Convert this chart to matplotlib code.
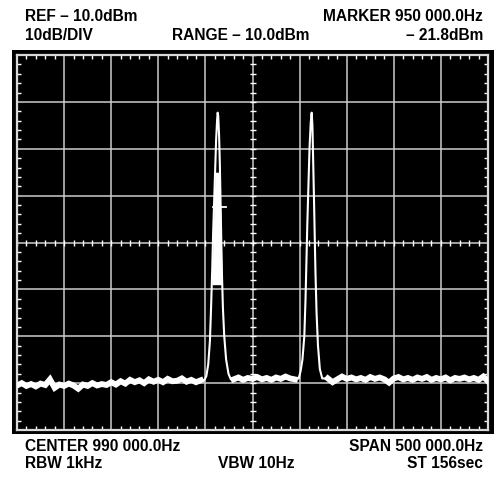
import numpy as np
import matplotlib
matplotlib.use("Agg")
from matplotlib import pyplot as plt
from matplotlib.patches import Rectangle

# analyser settings (kHz / dBm)
start_khz = 740.0
stop_khz = 1240.0
center_khz = 990.0
ref_dbm = -10.0
bottom_dbm = -90.0

# noise floor, read every 5 kHz off the screen
noise_left_dbm = [-80.5, -80.0, -80.6, -80.2, -80.7, -80.1, -80.4, -79.2, -81.0, -80.3,
                  -80.6, -80.1, -80.5, -81.2, -80.3, -80.6, -80.0, -80.5, -80.2, -80.4,
                  -79.8, -80.3, -79.6, -80.1, -79.3, -79.8, -79.4, -80.0, -79.2, -79.7,
                  -79.3, -79.8, -79.1, -79.6, -79.5, -79.0, -79.7, -79.3, -79.8, -79.4]
noise_mid_dbm = [-79.2, -78.8, -79.3, -78.9, -79.1, -78.7, -79.2, -78.9, -79.3, -78.8,
                 -79.1, -78.6, -79.0, -79.2]
noise_right_dbm = [-79.0, -79.8, -79.2, -78.6, -79.1, -78.8, -79.2, -78.9, -79.3, -78.7,
                   -79.1, -78.8, -79.2, -79.9, -79.0, -78.7, -79.2, -78.9, -79.3, -78.8,
                   -79.1, -78.7, -79.3, -78.9, -79.2, -78.8, -79.4, -78.9, -79.1, -78.8,
                   -79.2, -78.9, -79.3, -78.6, -79.6]
noise_left_khz = np.arange(740, 940, 5)
noise_mid_khz = np.arange(970, 1040, 5)
noise_right_khz = np.arange(1070, 1245, 5)

# the two carriers
peak1_khz = [939, 941, 943, 944.8, 946, 947.2, 948.2, 949.3, 950.4, 951.4, 952.4, 953,
             953.6, 954.5, 955.3, 956, 956.8, 957.6, 958.6, 960, 962, 964.5, 967]
peak1_dbm = [-79.3, -78.5, -76, -71, -64, -56, -48, -41, -34, -28, -24, -22.3,
             -23, -27, -33, -41, -49, -57, -64, -70, -75, -78, -79.2]
peak2_khz = [1039, 1041, 1043, 1045, 1046.3, 1047.2, 1048.2, 1049.3, 1050.5, 1051.8, 1052.8,
             1053.6, 1054.4, 1055.2, 1056, 1056.8, 1058, 1059.5, 1061.5, 1064]
peak2_dbm = [-79.0, -77.5, -75, -70, -62, -54, -46, -38, -30, -24.5, -22.3,
             -25, -32, -40, -48, -56, -65, -72, -77, -79]
# part of carrier 1 that is painted solid
peak1_solid_dbm = [-59, -35]
marker_dash_khz = [948, 962]
marker_dash_dbm = -42.5

top_left = ["REF \u2013 10.0dBm", "10dB/DIV"]
top_mid = "RANGE \u2013 10.0dBm"
top_right = ["MARKER 950 000.0Hz", "\u2013 21.8dBm"]
bot_left = ["CENTER 990 000.0Hz", "RBW 1kHz"]
bot_mid = "VBW 10Hz"
bot_right = ["SPAN 500 000.0Hz", "ST 156sec"]

W, H = 504, 478
fig = plt.figure(figsize=(W / 100, H / 100), dpi=100)
fig.patch.set_facecolor("white")

def fx(px):
    return px / W

def fy(py):
    return 1 - py / H

# black bezel round the screen
fig.patches.append(Rectangle((fx(12), fy(434)), fx(482), 384 / H, transform=fig.transFigure,
                             facecolor="black", edgecolor="none", zorder=-5))

ax = fig.add_axes([fx(17), fy(430), fx(471), 375 / H])
ax.set_zorder(2)
ax.set_facecolor("black")
ax.set_xlim(start_khz, stop_khz)
ax.set_ylim(bottom_dbm, ref_dbm)

xmaj = np.linspace(start_khz, stop_khz, 11)
ymaj = np.linspace(bottom_dbm, ref_dbm, 9)
xmin = np.linspace(start_khz, stop_khz, 51)
ymin = np.linspace(bottom_dbm, ref_dbm, 41)
ax.set_xticks(xmaj)
ax.set_yticks(ymaj)
ax.set_xticks(xmin, minor=True)
ax.set_yticks(ymin, minor=True)
ax.tick_params(which="major", length=0, labelbottom=False, labelleft=False)
ax.tick_params(which="minor", direction="in", length=3.2, width=1, color="white",
               top=True, right=True, bottom=True, left=True)
ax.grid(True, which="major", color="#cccccc", lw=1.1)
ax.set_axisbelow(True)
for s in ax.spines.values():
    s.set_color("#d8d8d8")
    s.set_linewidth(1.6)

# graticule ticks on the centre lines
ax.plot(xmin, np.full(len(xmin), (ref_dbm + bottom_dbm) / 2), ls="none", marker="|",
        ms=4, mew=1, color="white", zorder=2)
ax.plot(np.full(len(ymin), center_khz), ymin, ls="none", marker="_",
        ms=4, mew=1, color="white", zorder=2)

# trace
trace_khz = np.concatenate([noise_left_khz, peak1_khz, noise_mid_khz, peak2_khz, noise_right_khz])
trace_dbm = np.concatenate([noise_left_dbm, peak1_dbm, noise_mid_dbm, peak2_dbm, noise_right_dbm])
ax.plot(trace_khz, trace_dbm, color="white", lw=1.5, zorder=3)
for fk, dv in [(noise_left_khz, noise_left_dbm), (noise_mid_khz, noise_mid_dbm),
               (noise_right_khz, noise_right_dbm)]:
    ax.plot(fk, dv, color="white", lw=4.2, zorder=3, solid_joinstyle="miter")

top = int(np.argmax(peak1_dbm))
lv = np.linspace(peak1_solid_dbm[0], peak1_solid_dbm[1], 30)
left_edge = np.interp(lv, peak1_dbm[:top + 1], peak1_khz[:top + 1])
right_edge = np.interp(lv, peak1_dbm[top:][::-1], peak1_khz[top:][::-1])
ax.fill_betweenx(lv, left_edge, right_edge, color="white", lw=0, zorder=3)
ax.plot(marker_dash_khz, [marker_dash_dbm] * 2, color="white", lw=1.3, zorder=3)

fs = 11.2
kw = dict(fontsize=fs, fontweight="bold", family=["Liberation Sans", "DejaVu Sans"],
          va="baseline", transform=fig.transFigure)
fig.text(fx(25), fy(21), top_left[0], ha="left", **kw)
fig.text(fx(25), fy(40), top_left[1], ha="left", **kw)
fig.text(fx(172), fy(40), top_mid, ha="left", **kw)
fig.text(fx(483), fy(21), top_right[0], ha="right", **kw)
fig.text(fx(483), fy(40), top_right[1], ha="right", **kw)
fig.text(fx(25), fy(451), bot_left[0], ha="left", **kw)
fig.text(fx(25), fy(468), bot_left[1], ha="left", **kw)
fig.text(fx(218), fy(468), bot_mid, ha="left", **kw)
fig.text(fx(483), fy(451), bot_right[0], ha="right", **kw)
fig.text(fx(483), fy(468), bot_right[1], ha="right", **kw)

fig.savefig("out.png", dpi=100, facecolor="white")
